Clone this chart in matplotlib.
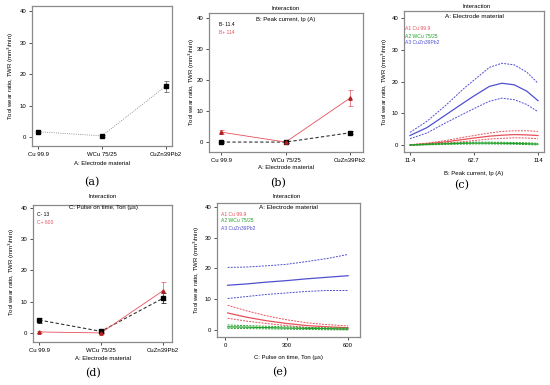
import matplotlib
matplotlib.use("Agg")
import matplotlib.pyplot as plt
import numpy as np

plt.rcParams['font.family'] = ['Liberation Sans', 'DejaVu Sans']

# ---- data ----
materials = ["Cu 99.9", "WCu 75/25", "CuZn39Pb2"]
ylabel = "Tool wear ratio, TWR (mm$^3$/min)"

# (a) main effect of electrode material
a_twr = [1.8, 0.5, 16.2]
a_err = [0.4, 0.3, 1.7]

# (b) interaction A x B
b_low = [0.0, 0.0, 3.0]
b_low_err = [0.2, 0.2, 0.5]
b_high = [3.2, 0.0, 14.2]
b_high_err = [0.6, 0.2, 2.5]

# (d) interaction A x C
d_low = [4.1, 0.5, 11.0]
d_low_err = [0.8, 0.5, 1.6]
d_high = [0.3, 0.0, 13.4]
d_high_err = [0.2, 0.2, 2.8]

# (c) TWR vs peak current for each material (center, upper, lower)
ip = [11.4, 25, 40, 55, 62.7, 75, 85, 95, 105, 114]
c_blue = [3.0, 5.5, 9.5, 13.5, 15.5, 18.5, 19.5, 19.0, 17.0, 14.0]
c_blue_hi = [4.0, 7.5, 12.5, 18.0, 20.5, 24.5, 25.8, 25.3, 23.0, 19.5]
c_blue_lo = [2.0, 3.8, 7.0, 10.0, 11.5, 13.8, 14.8, 14.3, 12.8, 10.5]
c_red = [0.0, 0.4, 1.0, 1.8, 2.2, 2.8, 3.1, 3.3, 3.2, 3.0]
c_red_hi = [0.1, 0.6, 1.4, 2.5, 3.0, 3.8, 4.3, 4.5, 4.5, 4.3]
c_red_lo = [-0.1, 0.2, 0.6, 1.1, 1.4, 1.9, 2.1, 2.3, 2.2, 2.0]
c_green = [0.0, 0.2, 0.4, 0.55, 0.6, 0.6, 0.55, 0.5, 0.4, 0.3]
c_green_hi = [0.1, 0.35, 0.6, 0.8, 0.9, 0.9, 0.85, 0.8, 0.7, 0.55]
c_green_lo = [-0.1, 0.05, 0.2, 0.3, 0.35, 0.35, 0.3, 0.25, 0.15, 0.05]

# (e) TWR vs pulse on time for each material
ton = [13, 100, 200, 300, 400, 500, 600]
e_blue = [14.5, 14.9, 15.5, 16.0, 16.6, 17.1, 17.6]
e_blue_hi = [20.3, 20.4, 20.8, 21.3, 22.2, 23.2, 24.5]
e_blue_lo = [10.2, 10.8, 11.5, 12.0, 12.5, 12.8, 12.8]
e_red = [5.5, 4.2, 3.0, 2.1, 1.4, 1.0, 0.7]
e_red_hi = [8.0, 6.3, 4.6, 3.3, 2.3, 1.7, 1.3]
e_red_lo = [3.8, 2.9, 2.1, 1.4, 0.8, 0.4, 0.1]
e_green = [1.0, 0.9, 0.75, 0.6, 0.5, 0.4, 0.3]
e_green_hi = [1.6, 1.4, 1.2, 1.0, 0.8, 0.7, 0.6]
e_green_lo = [0.5, 0.45, 0.35, 0.25, 0.15, 0.05, 0.0]

W, H = 550, 385
fig = plt.figure(figsize=(5.5, 3.85), dpi=100)

RED = "#e8505a"
GREEN = "#22a02a"
BLUE = "#5050d0"
FRAME = "#8a8a8a"
FS = 4.3


def ax_at(l, t, r, b):
    ax = fig.add_axes([l / W, 1 - b / H, (r - l) / W, (b - t) / H])
    for s in ax.spines.values():
        s.set_color(FRAME)
        s.set_linewidth(0.9)
    ax.tick_params(direction="out", length=2.5, width=0.6, color="#333333",
                   labelsize=FS, pad=1.5)
    ax.set_yticks([0, 10, 20, 30, 40])
    return ax


def txt(x, y, s, **kw):
    kw.setdefault("fontsize", FS)
    kw.setdefault("ha", "center")
    kw.setdefault("va", "center")
    fig.text(x / W, 1 - y / H, s, **kw)


def cat_axis(ax, xl):
    ax.set_xticks(range(3))
    ax.set_xticklabels(materials)
    ax.set_xlim(*xl)


def panel_label(x, y, s):
    txt(x, y, s, fontsize=8, family="DejaVu Serif")


# ---- (a) ----
ax = ax_at(32, 6, 172, 146)
cat_axis(ax, (-0.1, 2.1))
ax.set_ylim(-2.7, 41.6)
x = np.arange(3)
ax.plot(x, a_twr, color="#777777", lw=0.6, ls=":")
ax.errorbar(x, a_twr, yerr=a_err, fmt="s", color="black", ms=2.6,
            ecolor="#555555", elinewidth=0.5, capsize=1.8, capthick=0.5)
txt(11, 76, ylabel, rotation=90)
txt(102, 164, "A: Electrode material")
panel_label(92, 182, "(a)")

# ---- (b) ----
ax = ax_at(209, 13, 363, 152)
cat_axis(ax, (-0.19, 2.2))
ax.set_ylim(-3.2, 41.6)
ax.plot(x, b_low, color="#333333", lw=0.8, ls="--", dashes=(3, 2))
ax.errorbar(x, b_low, yerr=b_low_err, fmt="s", color="black", ms=2.4,
            elinewidth=0.5, capsize=1.8, capthick=0.5)
ax.plot(x, b_high, color=RED, lw=0.6)
ax.errorbar(x, b_high, yerr=b_high_err, fmt="^", color="#b02020", ms=2.4,
            ecolor=RED, elinewidth=0.5, capsize=1.8, capthick=0.5)
txt(192, 82, ylabel, rotation=90)
txt(286, 8, "Interaction")
txt(286, 19, "B: Peak current, Ip (A)")
txt(219, 25, "B- 11.4", ha="left", fontsize=3.6)
txt(219, 32, "B+ 114", ha="left", fontsize=3.6, color=RED)
txt(286, 168, "A: Electrode material")
panel_label(278, 183, "(b)")

# ---- (c) ----
ax = ax_at(404, 11, 544, 152)
ax.set_xticks([11.4, 62.7, 114])
ax.set_xticklabels(["11.4", "62.7", "114"])
ax.set_xlim(6.6, 118.8)
ax.set_ylim(-2.2, 42.3)
for col, cen, hi, lo in [(RED, c_red, c_red_hi, c_red_lo),
                         (GREEN, c_green, c_green_hi, c_green_lo),
                         (BLUE, c_blue, c_blue_hi, c_blue_lo)]:
    ax.plot(ip, cen, color=col, lw=0.9)
    ax.plot(ip, hi, color=col, lw=0.7, ls="--", dashes=(2, 1.2))
    ax.plot(ip, lo, color=col, lw=0.7, ls="--", dashes=(2, 1.2))
txt(385, 82, ylabel, rotation=90)
txt(477, 6, "Interaction")
txt(474, 16, "A: Electrode material", fontsize=4.6)
txt(405, 29, "A1 Cu 99.9", ha="left", fontsize=3.6, color=RED)
txt(405, 36, "A2 WCu 75/25", ha="left", fontsize=3.6, color=GREEN)
txt(405, 43, "A3 CuZn39Pb2", ha="left", fontsize=3.6, color=BLUE)
txt(474, 173, "B: Peak current, Ip (A)")
panel_label(462, 185, "(c)")

# ---- (d) ----
ax = ax_at(33, 205, 172, 342)
cat_axis(ax, (-0.1, 2.15))
ax.set_ylim(-2.9, 40.8)
ax.plot(x, d_low, color="#333333", lw=0.8, ls="--", dashes=(3, 2))
ax.errorbar(x, d_low, yerr=d_low_err, fmt="s", color="black", ms=2.6,
            elinewidth=0.5, capsize=1.8, capthick=0.5)
ax.plot(x, d_high, color=RED, lw=0.6)
ax.errorbar(x, d_high, yerr=d_high_err, fmt="^", color="#b02020", ms=2.4,
            ecolor=RED, elinewidth=0.5, capsize=1.8, capthick=0.5)
txt(12, 272, ylabel, rotation=90)
txt(103, 197, "Interaction")
txt(103, 208, "C: Pulse on time, Ton (\u00b5s)")
txt(37, 215, "C- 13", ha="left", fontsize=3.6)
txt(37, 222, "C+ 600", ha="left", fontsize=3.6, color=RED)
txt(103, 358, "A: Electrode material")
panel_label(93, 373, "(d)")

# ---- (e) ----
ax = ax_at(217, 203, 360, 337)
ax.set_xticks([0, 300, 600])
ax.set_xlim(-39, 658)
ax.set_ylim(-2.3, 41.2)
for col, cen, hi, lo in [(RED, e_red, e_red_hi, e_red_lo),
                         (GREEN, e_green, e_green_hi, e_green_lo),
                         (BLUE, e_blue, e_blue_hi, e_blue_lo)]:
    ax.plot(ton, cen, color=col, lw=0.9)
    ax.plot(ton, hi, color=col, lw=0.7, ls="--", dashes=(2, 1.2))
    ax.plot(ton, lo, color=col, lw=0.7, ls="--", dashes=(2, 1.2))
txt(197, 270, ylabel, rotation=90)
txt(287, 197, "Interaction")
txt(288, 208, "A: Electrode material", fontsize=4.6)
txt(221, 214, "A1 Cu 99.9", ha="left", fontsize=3.6, color=RED)
txt(221, 221, "A2 WCu 75/25", ha="left", fontsize=3.6, color=GREEN)
txt(221, 228, "A3 CuZn39Pb2", ha="left", fontsize=3.6, color=BLUE)
txt(288, 357, "C: Pulse on time, Ton (\u00b5s)")
panel_label(280, 372, "(e)")

fig.savefig("out.png", dpi=100)
